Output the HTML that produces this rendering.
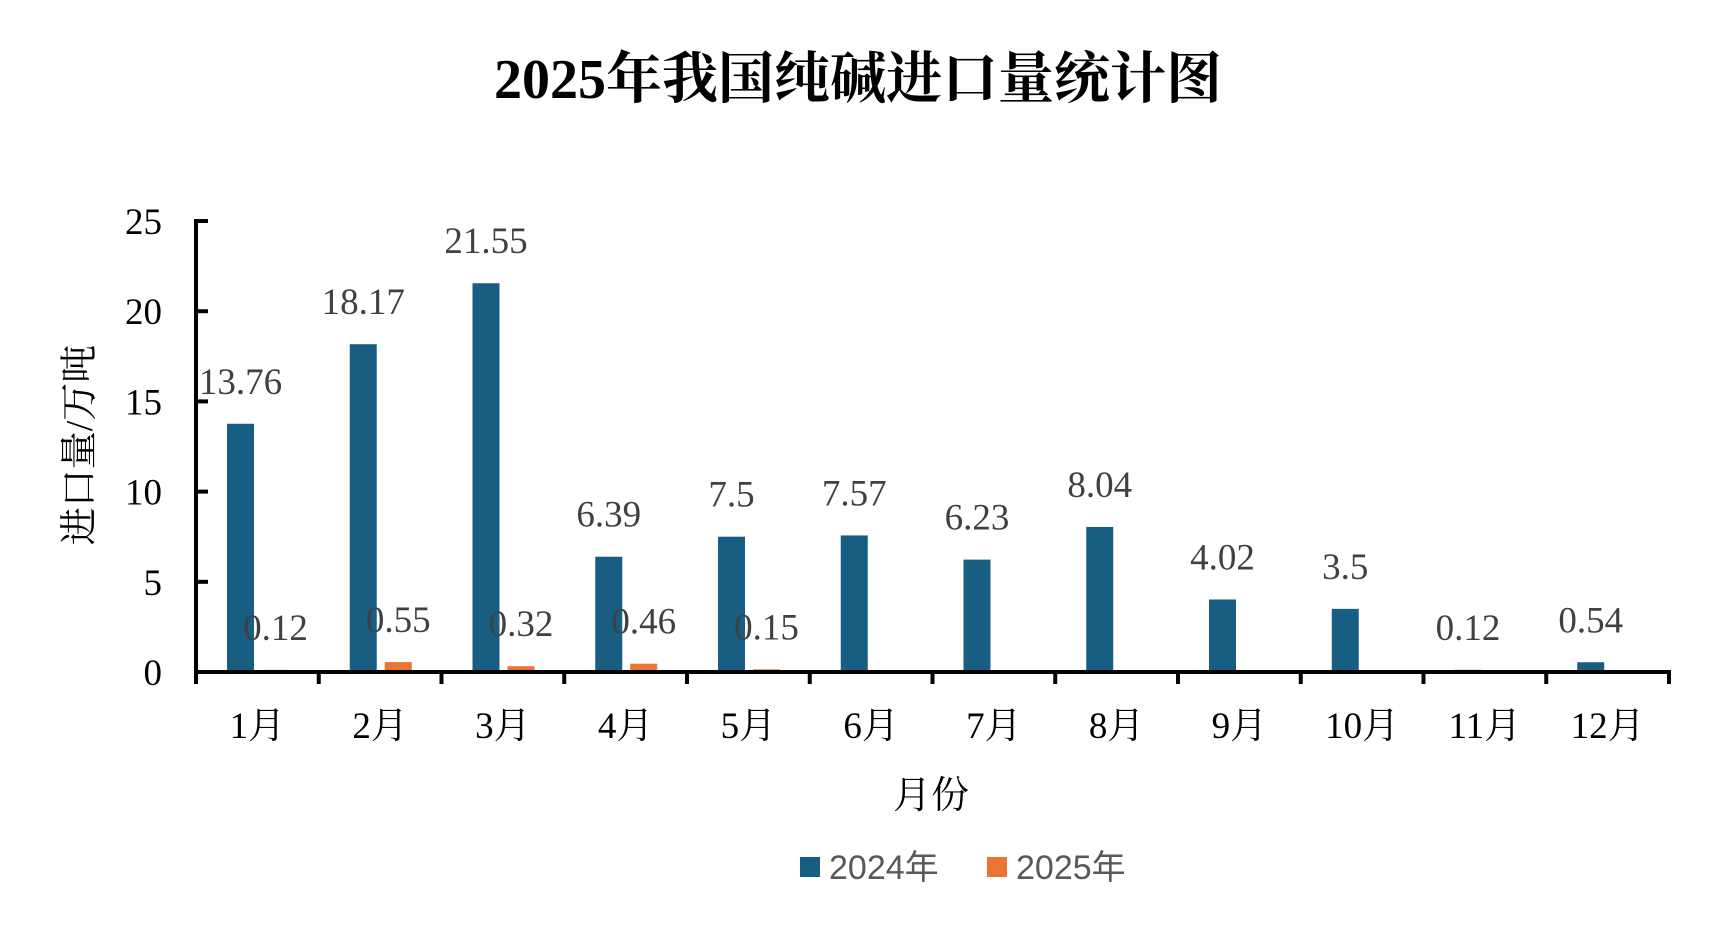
<!DOCTYPE html>
<html><head><meta charset="utf-8"><style>
html,body{margin:0;padding:0;background:#fff;}
svg{display:block;}
</style></head><body>
<svg id="chart" width="1715" height="945" xmlns="http://www.w3.org/2000/svg">
<text x="858" y="98" text-anchor="middle" font-family="'Liberation Serif','Noto Serif CJK SC',serif" font-weight="bold" font-size="56" fill="#000">2025年我国纯碱进口量统计图</text>
<g id="plot"></g>
<text transform="translate(92,445) rotate(-90)" text-anchor="middle" font-family="'Liberation Serif','Noto Serif CJK SC',serif" font-size="38" fill="#000">进口量/万吨</text>
<text x="931" y="808" text-anchor="middle" font-family="'Liberation Serif','Noto Serif CJK SC',serif" font-size="38" fill="#000">月份</text>
<g>
<rect x="800" y="857" width="20" height="20" fill="#175e82"/>
<text x="829" y="879" font-family="'Liberation Sans','Noto Sans CJK SC',sans-serif" font-size="34" fill="#595959">2024年</text>
<rect x="987" y="857" width="20" height="20" fill="#ea7434"/>
<text x="1016" y="879" font-family="'Liberation Sans','Noto Sans CJK SC',sans-serif" font-size="34" fill="#595959">2025年</text>
</g>
</svg>
<script>
const categories = ['1月','2月','3月','4月','5月','6月','7月','8月','9月','10月','11月','12月'];
const values2024 = [13.76,18.17,21.55,6.39,7.5,7.57,6.23,8.04,4.02,3.5,0.12,0.54];
const values2025 = [0.12,0.55,0.32,0.46,0.15,null,null,null,null,null,null,null];
const yTicks = [0,5,10,15,20,25];

const NS='http://www.w3.org/2000/svg';
const g=document.getElementById('plot');
const X0=196, X1=1669, Y0=672, YT=221, YMAX=25;
const cw=(X1-X0)/categories.length;
function y(v){return Y0-(v/YMAX)*(Y0-YT);}
function xCat(i){return X0+i*cw;}
function mk(tag,attrs){const e=document.createElementNS(NS,tag);for(const k in attrs)e.setAttribute(k,attrs[k]);g.appendChild(e);return e;}
const serif="'Liberation Serif','Noto Serif CJK SC',serif";

// bars
values2024.forEach((v,i)=>{
  if(v==null)return;
  const r=mk('rect',{x:xCat(i)+31,y:y(v),width:27,height:Y0-y(v),fill:'#175e82'});
  
  
  const t=mk('text',{x:xCat(i)+44.5,y:y(v)-30,'text-anchor':'middle','font-family':serif,'font-size':37,fill:'#404040'});
  t.textContent=String(v);
  
  
});
values2025.forEach((v,i)=>{
  if(v==null)return;
  const r=mk('rect',{x:xCat(i)+66,y:y(v),width:27,height:Y0-y(v),fill:'#ea7434'});
  
  
  const t=mk('text',{x:xCat(i)+79.5,y:y(v)-30,'text-anchor':'middle','font-family':serif,'font-size':37,fill:'#404040'});
  t.textContent=String(v);
  
  
});
// axes
const ya=mk('line',{x1:X0,y1:YT-2,x2:X0,y2:Y0+12,stroke:'#000','stroke-width':4});


const xa=mk('line',{x1:X0-2,y1:Y0,x2:X1+2,y2:Y0,stroke:'#000','stroke-width':4});


yTicks.forEach(v=>{
  const l=mk('line',{x1:X0,y1:y(v),x2:X0+12,y2:y(v),stroke:'#000','stroke-width':4});
  
  
  const t=mk('text',{x:X0-34,y:y(v)+13,'text-anchor':'end','font-family':serif,'font-size':37,fill:'#000'});
  t.textContent=String(v);
  
  
});
for(let i=0;i<=categories.length;i++){
  const l=mk('line',{x1:xCat(i),y1:Y0,x2:xCat(i),y2:Y0+12,stroke:'#000','stroke-width':4});
  
  
}
categories.forEach((c,i)=>{
  const t=mk('text',{x:xCat(i)+cw/2,y:738,'text-anchor':'middle','font-family':serif,'font-size':37,fill:'#000'});
  t.textContent=c;
  
  
});
</script>
</body></html>
